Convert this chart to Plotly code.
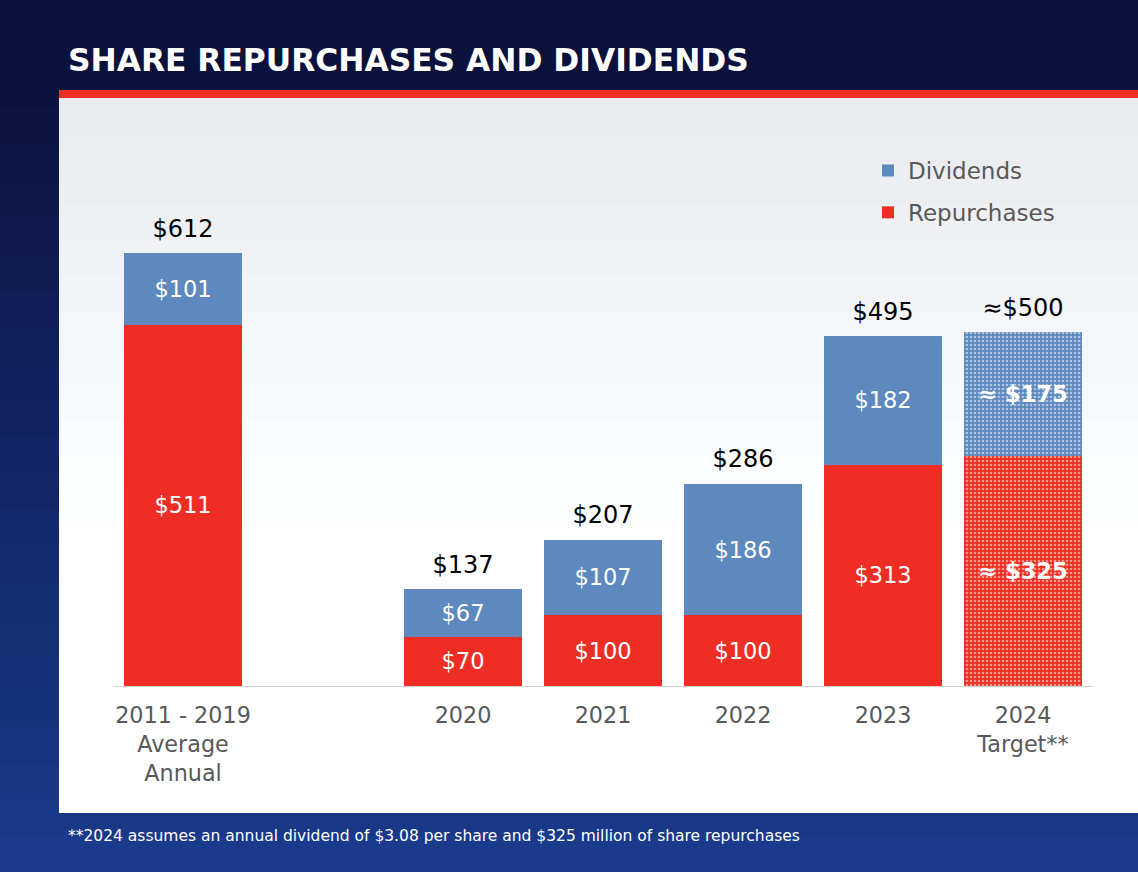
import plotly.graph_objects as go

# Data ($ millions)
categories = ["2011 - 2019<br>Average<br>Annual", " ", "2020", "2021", "2022", "2023", "2024<br>Target**"]
repurchases = [511, None, 70, 100, 100, 313, 325]
dividends = [101, None, 67, 107, 186, 182, 175]
totals = [612, None, 137, 207, 286, 495, 500]
is_target = [False, False, False, False, False, False, True]

RED = "#ee2e24"
BLUE = "#5e89be"

W, H = 1138, 872
PL, PR, PT, PB = 113, 1093, 191, 686


def px(x, y):
    # pixel position -> paper fraction of the plot area
    return (x - PL) / (PR - PL), (PB - y) / (PB - PT)


def label(v, target, bold=False):
    if v is None:
        return ""
    s = f"${v}"
    if target:
        s = "≈ " + s
        if bold:
            s = f"<b>{s}</b>"
    return s


fig = go.Figure()

fig.add_bar(
    x=categories, y=repurchases, name="Repurchases",
    marker=dict(color=RED, line_width=0,
                pattern=dict(shape=["." if t else "" for t in is_target],
                             fgcolor="white", size=4, solidity=0.35)),
    text=[label(v, t, True) for v, t in zip(repurchases, is_target)],
    textposition="inside", insidetextanchor="middle",
    textfont=dict(color="white", size=22.5, family="DejaVu Sans"),
    legendgroup="r", legendrank=2, width=0.845,
)
fig.add_bar(
    x=categories, y=dividends, name="Dividends",
    marker=dict(color=BLUE, line_width=0,
                pattern=dict(shape=["." if t else "" for t in is_target],
                             fgcolor="white", size=4, solidity=0.35)),
    text=[label(v, t, True) for v, t in zip(dividends, is_target)],
    textposition="inside", insidetextanchor="middle",
    textfont=dict(color="white", size=22.5, family="DejaVu Sans"),
    legendgroup="d", legendrank=1, width=0.845,
)
fig.add_scatter(
    x=categories, y=totals, mode="markers+text",
    marker=dict(size=15, opacity=0),
    text=[("≈$%d" % v if t else "$%d" % v) if v is not None else "" for v, t in zip(totals, is_target)],
    textposition="top center",
    textfont=dict(color="black", size=24, family="DejaVu Sans"),
    showlegend=False, hoverinfo="skip",
)

shapes = []
# dark blue background gradient
n = 24
for i in range(n):
    f = i / (n - 1)
    r = int(10 + (26 - 10) * f)
    g = int(16 + (58 - 16) * f)
    b = int(58 + (140 - 58) * f)
    x0, y0 = px(0, H * i / n)
    x1, y1 = px(W, H * (i + 1) / n + 1)
    shapes.append(dict(type="rect", xref="paper", yref="paper", x0=x0, x1=x1, y0=y1, y1=y0,
                       fillcolor=f"rgb({r},{g},{b})", line_width=0, layer="below"))
# light panel with soft gradient
n = 20
top, bot = 97, 812
for i in range(n):
    f = i / (n - 1)
    c = int(233 + (255 - 233) * min(1, f * 1.6))
    x0, y0 = px(59, top + (bot - top) * i / n)
    x1, y1 = px(W, top + (bot - top) * (i + 1) / n + 1)
    shapes.append(dict(type="rect", xref="paper", yref="paper", x0=x0, x1=x1, y0=y1, y1=y0,
                       fillcolor=f"rgb({c},{min(255, c + 2)},{min(255, c + 5)})", line_width=0, layer="below"))
# red rule under the title
x0, y0 = px(59, 90)
x1, y1 = px(W, 98)
shapes.append(dict(type="rect", xref="paper", yref="paper", x0=x0, x1=x1, y0=y1, y1=y0,
                   fillcolor=RED, line_width=0, layer="below"))

tx, ty = px(66, 60)
fx, fy = px(66, 836)
annotations = [
    dict(text="<b>SHARE REPURCHASES AND DIVIDENDS</b>", x=tx, y=ty, xref="paper", yref="paper",
         xanchor="left", yanchor="middle", showarrow=False,
         font=dict(color="white", size=31.3, family="DejaVu Sans")),
    dict(text="**2024 assumes an annual dividend of $3.08 per share and $325 million of share repurchases",
         x=fx, y=fy, xref="paper", yref="paper", xanchor="left", yanchor="middle", showarrow=False,
         font=dict(color="white", size=15.5, family="DejaVu Sans")),
]

lx, ly = px(868, 149)
fig.update_layout(
    width=W, height=H,
    margin=dict(l=PL, r=W - PR, t=PT, b=H - PB),
    paper_bgcolor="#0b1848", plot_bgcolor="rgba(0,0,0,0)",
    barmode="stack", bargap=0.155,
    shapes=shapes, annotations=annotations,
    showlegend=True,
    legend=dict(x=lx, y=ly, xanchor="left", yanchor="top", traceorder="grouped",
                tracegroupgap=9, bgcolor="rgba(0,0,0,0)",
                font=dict(color="#595959", size=23, family="DejaVu Sans")),
    xaxis=dict(type="category", categoryarray=categories, categoryorder="array",
               range=[-0.5, 6.5], showgrid=False, showline=True, linecolor="#d3d3d3", linewidth=1,
               ticks="", ticklabelstandoff=9,
               tickfont=dict(color="#595959", size=22.3, family="DejaVu Sans")),
    yaxis=dict(range=[0, 700], visible=False, showgrid=False, zeroline=False),
    font=dict(family="DejaVu Sans"),
    hovermode=False,
)

fig.write_html("out.html", config={"displayModeBar": False},
               post_script="document.body.style.margin='0px';")
